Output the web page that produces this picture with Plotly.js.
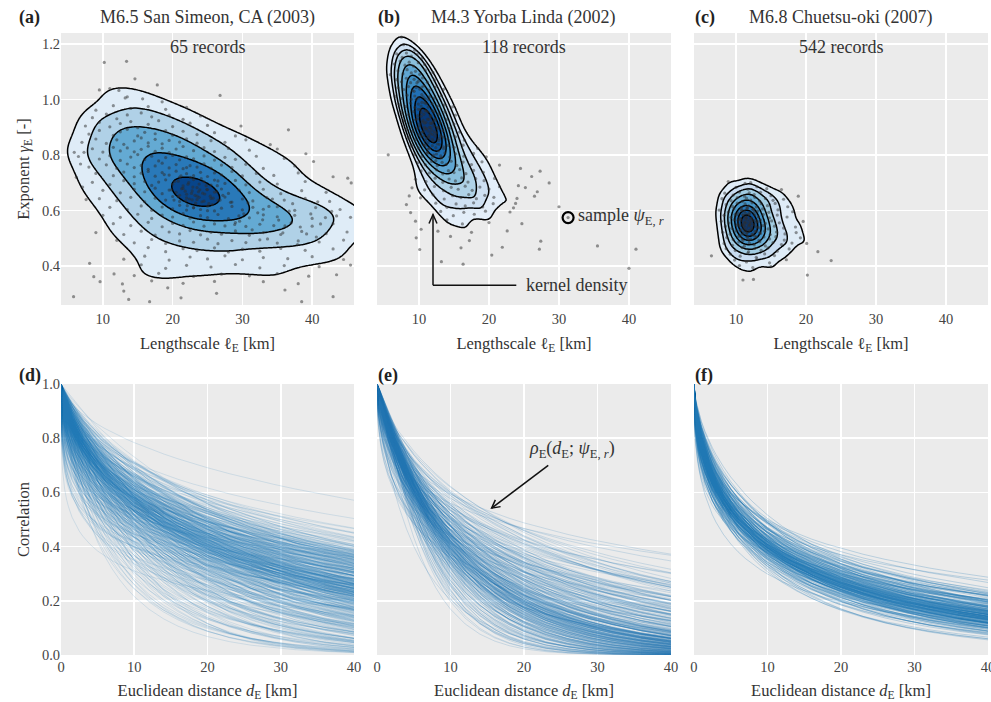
<!DOCTYPE html>
<html><head><meta charset="utf-8">
<script src="https://cdn.plot.ly/plotly-3.0.1.min.js"></script>
<style>html,body{margin:0;padding:0;background:#fff}#chart{width:991px;height:702px}</style>
</head><body><div id="chart"></div>
<script>
// ---------------- data ----------------
const panelTitles = ['M6.5 San Simeon, CA (2003)', 'M4.3 Yorba Linda (2002)', 'M6.8 Chuetsu-oki (2007)'];
const recordCounts = ['65 records', '118 records', '542 records'];
const panelLetters = ['(a)', '(b)', '(c)', '(d)', '(e)', '(f)'];
const lengthscaleTicks = [10, 20, 30, 40];
const exponentTicks = [0.4, 0.6, 0.8, 1.0, 1.2];
const distanceTicks = [0, 10, 20, 30, 40];
const correlationTicks = [0, 0.2, 0.4, 0.6, 0.8, 1.0];
const distanceGrid = [0,0.05,0.1,0.2,0.35,0.5,0.75,1,1.5,2,2.5,3,4,5,6,7,8,9,10,12,14,16,18,20,23,26,29,32,36,40];

// posterior samples [lengthscale km, exponent]
const sanSimeonSamples = [
[10.2,1.134],[13.4,1.138],
[14.6,1.075],[17.8,1.053],
[9.5,1.035],[11.0,1.040],[12.3,1.033],[26.8,1.015],
[13.2,1.006],[13.5,1.010],[15.7,1.003],[18.5,0.992],
[9.0,0.962],[11.5,0.978],[14.0,0.968],[16.5,0.975],[19.0,0.965],[22.0,0.972],
[8.5,0.935],[10.5,0.948],[12.0,0.931],[13.5,0.945],[15.5,0.952],[17.0,0.938],[19.5,0.944],[21.5,0.929],[24.0,0.941],
[7.5,0.905],[9.5,0.918],[11.0,0.902],[12.5,0.914],[14.0,0.921],[15.0,0.899],[16.5,0.911],[18.0,0.924],[20.0,0.903],[22.5,0.915],[25.0,0.907],[29.8,0.905],
[8.0,0.876],[9.5,0.889],[11.5,0.871],[12.5,0.884],[13.5,0.893],[15.0,0.869],[16.0,0.882],[17.5,0.877],[19.0,0.888],[20.0,0.872],[21.5,0.886],[23.5,0.874],[26.0,0.881],[29.0,0.869],[36.6,0.891],
[7.0,0.846],[9.0,0.858],[10.5,0.842],[12.0,0.855],[13.0,0.839],[14.5,0.851],[15.5,0.862],[16.5,0.844],[17.5,0.857],[18.5,0.841],[19.5,0.853],[21.0,0.847],[22.0,0.859],[23.5,0.843],[25.5,0.852],[27.5,0.846],[30.5,0.855],[34.0,0.838],
[8.5,0.823],[10.0,0.811],[11.5,0.828],[12.5,0.815],[13.5,0.826],[14.5,0.812],[15.5,0.821],[16.5,0.832],[17.5,0.814],[18.5,0.825],[19.5,0.809],[20.5,0.822],[21.5,0.831],[23.0,0.816],[24.5,0.827],[26.0,0.813],[28.0,0.824],[31.0,0.818],[35.0,0.822],[39.1,0.805],
[6.5,0.795],[9.5,0.786],[11.0,0.798],[12.5,0.781],[14.0,0.793],[15.0,0.802],[16.0,0.784],[17.0,0.796],[18.0,0.779],[19.0,0.791],[20.0,0.799],[21.0,0.783],[22.0,0.794],[23.0,0.787],[24.5,0.797],[26.0,0.782],[27.5,0.792],[29.0,0.785],[32.0,0.796],[36.0,0.788],[40.2,0.777],
[8.0,0.757],[10.5,0.765],[12.0,0.752],[13.5,0.768],[14.5,0.755],[15.5,0.763],[16.5,0.749],[17.5,0.761],[18.5,0.771],[19.5,0.754],[20.5,0.766],[21.5,0.751],[22.5,0.762],[23.5,0.757],[24.5,0.769],[25.5,0.753],[27.0,0.764],[28.5,0.756],[30.5,0.767],[33.0,0.752],[37.5,0.761],
[9.0,0.734],[11.5,0.726],[13.0,0.739],[14.5,0.722],[15.5,0.735],[16.5,0.741],[17.5,0.724],[18.5,0.737],[19.5,0.728],[20.5,0.742],[21.0,0.721],[22.0,0.733],[23.0,0.726],[24.0,0.738],[25.0,0.723],[26.0,0.736],[27.0,0.729],[28.5,0.741],[30.0,0.725],[32.0,0.734],[34.5,0.727],[38.0,0.736],[43.0,0.722],
[8.5,0.702],[11.0,0.694],[13.0,0.708],[14.5,0.697],[16.0,0.705],[17.0,0.691],[18.0,0.703],[19.0,0.711],[20.0,0.695],[20.8,0.706],[21.5,0.689],[22.3,0.701],[23.0,0.712],[23.8,0.696],[24.5,0.704],[25.5,0.692],[26.5,0.707],[27.5,0.698],[29.0,0.709],[30.5,0.693],[32.5,0.703],[35.0,0.696],[39.0,0.705],[45.1,0.717],
[10.0,0.673],[12.5,0.664],[14.5,0.677],[16.0,0.668],[17.5,0.681],[18.5,0.661],[19.5,0.674],[20.5,0.666],[21.3,0.679],[22.0,0.659],[22.8,0.671],[23.5,0.683],[24.3,0.663],[25.0,0.676],[26.0,0.667],[27.0,0.678],[28.0,0.662],[29.5,0.674],[31.0,0.665],[33.0,0.677],[35.5,0.661],[38.5,0.672],[42.0,0.666],[45.6,0.700],
[9.5,0.643],[12.0,0.636],[14.0,0.648],[16.0,0.632],[17.5,0.645],[19.0,0.638],[20.0,0.651],[21.0,0.633],[22.0,0.646],[22.8,0.639],[23.5,0.652],[24.5,0.634],[25.5,0.644],[26.5,0.637],[27.5,0.649],[28.5,0.631],[30.0,0.642],[31.5,0.635],[33.5,0.647],[36.0,0.638],[39.0,0.644],[42.5,0.633],
[11.0,0.612],[13.5,0.604],[15.5,0.617],[17.0,0.601],[18.5,0.613],[20.0,0.606],[21.0,0.619],[22.0,0.602],[23.0,0.611],[24.0,0.604],[25.0,0.616],[26.0,0.599],[27.0,0.609],[28.5,0.615],[30.0,0.603],[31.5,0.612],[33.0,0.605],[35.0,0.614],[37.5,0.601],[40.5,0.611],[44.0,0.604],
[10.0,0.583],[12.5,0.576],[15.0,0.587],[17.0,0.572],[18.5,0.584],[20.0,0.577],[21.5,0.589],[22.5,0.573],[24.0,0.582],[25.0,0.575],[26.5,0.586],[28.0,0.571],[29.5,0.581],[31.0,0.574],[33.0,0.585],[35.0,0.578],[37.5,0.583],[40.0,0.572],[43.5,0.581],[45.5,0.576],
[11.5,0.553],[14.0,0.546],[16.5,0.558],[18.5,0.542],[20.0,0.554],[21.5,0.547],[23.0,0.559],[24.5,0.544],[26.0,0.552],[27.5,0.545],[29.0,0.557],[30.5,0.543],[32.5,0.551],[34.5,0.546],[37.0,0.556],[40.0,0.544],[43.0,0.553],
[9.0,0.521],[13.0,0.514],[15.5,0.526],[17.5,0.512],[19.5,0.523],[21.0,0.516],[22.5,0.528],[24.0,0.513],[25.5,0.522],[27.0,0.515],[29.0,0.527],[31.0,0.511],[33.0,0.521],[35.5,0.514],[38.5,0.525],[42.0,0.517],[45.0,0.523],
[12.0,0.493],[14.5,0.484],[17.0,0.496],[19.0,0.482],[21.0,0.491],[23.0,0.486],[25.0,0.497],[26.5,0.481],[28.5,0.492],[30.5,0.485],[32.5,0.495],[35.0,0.483],[38.0,0.491],[41.0,0.487],[44.5,0.494],
[16.5,0.467],[19.0,0.452],[21.5,0.463],[23.5,0.456],[26.0,0.466],[28.0,0.451],[30.0,0.461],[32.5,0.454],[35.5,0.464],[39.0,0.457],[43.0,0.462],
[13.0,0.425],[16.0,0.436],[19.5,0.422],[22.5,0.433],[25.0,0.426],[27.5,0.437],[30.0,0.423],[33.0,0.431],[36.5,0.427],[40.0,0.434],[44.5,0.424],
[8.1,0.410],[15.5,0.405],[19.0,0.392],[22.0,0.403],[25.5,0.397],[29.0,0.406],[32.5,0.394],[36.0,0.402],[41.0,0.398],[45.5,0.404],
[8.7,0.362],[11.6,0.372],[14.5,0.366],[18.0,0.374],[23.0,0.363],[27.0,0.371],[31.0,0.365],[35.0,0.373],[39.5,0.364],[43.5,0.369],
[9.6,0.344],[12.8,0.336],[17.0,0.347],[21.5,0.338],[26.0,0.345],[33.0,0.344],[38.0,0.337],
[13.0,0.310],[19.3,0.322],[26.3,0.302],[36.1,0.314],[43.0,0.290],
[5.8,0.290],[13.7,0.280],[16.7,0.272],[21.2,0.286],[38.5,0.272],
[6.2,0.720],[7.1,0.685],[6.8,0.768],[7.6,0.640],[5.9,0.810],[7.3,0.810],
[21.5,0.680],[23.2,0.655],[24.8,0.690],[22.6,0.720],[20.8,0.650],[25.8,0.645],[23.9,0.675],[21.9,0.635],[26.4,0.690],[22.2,0.695],[24.1,0.715],[20.3,0.705],[25.2,0.625],[23.5,0.640],[22.9,0.685],[27.2,0.655],[21.2,0.725],[24.6,0.660],[19.8,0.675],[26.0,0.710],[23.0,0.610],[25.0,0.600],[22.0,0.755],[18.8,0.730],[28.3,0.630],
[21.0,0.655],[22.4,0.642],[23.7,0.668],[25.4,0.652],[24.2,0.632],[22.7,0.662],[26.3,0.668],[20.2,0.638],[23.3,0.627],[24.9,0.676],[21.8,0.670],[26.8,0.638],[22.1,0.618],[25.7,0.622],[23.8,0.648],
[30.8,0.628],[32.2,0.592],[33.8,0.615],[35.2,0.566],[36.7,0.598],[38.3,0.541],[39.8,0.588],[41.2,0.552],[42.8,0.597],[29.6,0.562],[31.4,0.531],[33.6,0.498],[35.8,0.520],[37.9,0.478],[40.6,0.505],[30.2,0.588],[34.3,0.642],[37.2,0.625],[40.8,0.632],[28.9,0.550],[32.9,0.567],[36.1,0.545],[39.2,0.516],[41.9,0.575],
[46.8,0.58],[47.5,0.62],[48.3,0.51],[49.0,0.55],[50.2,0.47],[51.0,0.60],[52.5,0.53],[53.8,0.45],[55.0,0.57],[57.0,0.50],[59.5,0.42],[61.0,0.55],[64.0,0.48],[68.0,0.52],[48.8,0.44],[50.5,0.66],[54.0,0.62],[47.8,0.39],[58.0,0.60],[72.0,0.46],[85.0,0.50],[105.0,0.60]
];

const yorbaLindaSamples = [
[7.5,1.225],
[7.8,1.198],[9.4,1.178],
[6.8,1.165],[7.6,1.152],[8.2,1.168],[8.9,1.157],[9.7,1.163],[10.4,1.149],
[6.5,1.128],[7.3,1.139],[8.0,1.124],[8.6,1.135],[9.2,1.121],[9.9,1.133],[10.8,1.127],
[5.9,1.090],[7.0,1.104],[7.7,1.093],[8.3,1.108],[8.9,1.096],[9.5,1.102],[10.1,1.091],[10.9,1.106],[12.0,1.098],
[6.8,1.072],[7.5,1.064],[8.2,1.077],[8.8,1.061],[9.3,1.073],[9.9,1.066],[10.5,1.078],[11.2,1.063],[12.2,1.071],
[7.0,1.043],[7.8,1.036],[8.5,1.047],[9.1,1.032],[9.6,1.044],[10.1,1.038],[10.7,1.049],[11.4,1.034],[12.3,1.045],[13.5,1.037],
[6.6,1.012],[7.5,1.004],[8.3,1.016],[8.9,1.001],[9.4,1.013],[9.9,1.006],[10.4,1.018],[10.9,1.003],[11.5,1.011],[12.2,1.005],[13.2,1.014],
[7.2,0.982],[8.1,0.975],[8.8,0.987],[9.4,0.972],[9.9,0.984],[10.3,0.977],[10.8,0.989],[11.3,0.973],[11.9,0.985],[12.6,0.976],[13.6,0.981],[14.8,0.974],
[7.6,0.953],[8.5,0.946],[9.2,0.957],[9.8,0.942],[10.3,0.954],[10.7,0.947],[11.1,0.959],[11.6,0.943],[12.1,0.955],[12.8,0.948],[13.7,0.956],[15.2,0.944],
[7.9,0.924],[8.8,0.916],[9.5,0.928],[10.1,0.913],[10.6,0.925],[11.0,0.918],[11.4,0.929],[11.8,0.914],[12.3,0.926],[13.0,0.917],[13.9,0.927],[15.0,0.912],
[8.2,0.893],[9.1,0.886],[9.8,0.897],[10.4,0.882],[10.9,0.894],[11.3,0.887],[11.7,0.899],[12.2,0.884],[12.7,0.895],[13.4,0.888],[14.3,0.896],[15.8,0.883],
[8.5,0.862],[9.5,0.855],[10.3,0.867],[10.9,0.852],[11.4,0.864],[11.9,0.857],[12.3,0.869],[12.8,0.853],[13.4,0.865],[14.1,0.858],[15.2,0.866],[16.5,0.854],
[8.9,0.833],[9.9,0.826],[10.7,0.837],[11.3,0.822],[11.9,0.834],[12.4,0.827],[12.9,0.839],[13.5,0.823],[14.2,0.835],[15.0,0.828],[16.3,0.836],[18.4,0.824],
[5.6,0.801],[9.4,0.803],[10.4,0.795],[11.2,0.807],[11.9,0.792],[12.5,0.804],[13.1,0.797],[13.7,0.808],[14.4,0.793],[15.2,0.805],[16.4,0.796],[17.8,0.806],[19.6,0.794],
[9.8,0.772],[10.9,0.765],[11.8,0.777],[12.6,0.762],[13.3,0.774],[13.9,0.767],[14.6,0.778],[15.4,0.763],[16.3,0.775],[17.5,0.766],[19.0,0.776],[21.5,0.764],
[10.3,0.743],[11.5,0.736],[12.5,0.747],[13.4,0.732],[14.2,0.744],[15.0,0.737],[15.8,0.748],[16.7,0.733],[17.8,0.745],[19.2,0.738],[24.5,0.752],[27.3,0.742],
[9.5,0.713],[11.0,0.705],[12.3,0.717],[13.4,0.702],[14.3,0.714],[15.2,0.707],[16.1,0.718],[17.0,0.703],[18.1,0.715],[19.3,0.708],[20.8,0.716],[24.2,0.690],[26.1,0.723],[28.6,0.700],
[9.0,0.682],[10.8,0.675],[12.2,0.687],[13.5,0.672],[14.6,0.684],[15.6,0.677],[16.6,0.688],[17.6,0.673],[18.7,0.685],[20.0,0.678],[21.5,0.686],[26.9,0.668],[25.2,0.683],
[8.6,0.653],[10.2,0.646],[12.0,0.657],[13.6,0.642],[14.8,0.654],[16.0,0.647],[17.1,0.658],[18.2,0.643],[19.4,0.655],[20.7,0.648],[23.5,0.610],[24.0,0.644],[26.5,0.652],
[8.2,0.622],[12.4,0.627],[14.0,0.612],[15.3,0.624],[16.6,0.617],[17.8,0.628],[19.1,0.613],[20.6,0.625],[23.8,0.626],[30.0,0.614],
[8.8,0.593],[13.1,0.597],[14.9,0.582],[16.4,0.594],[17.9,0.587],[19.5,0.598],[23.0,0.595],
[9.5,0.562],[14.0,0.567],[16.2,0.552],[20.0,0.557],[24.7,0.553],[31.3,0.575],
[10.3,0.533],[12.7,0.526],[17.5,0.522],[22.6,0.527],
[9.6,0.502],[14.5,0.507],[17.2,0.492],[27.4,0.490],
[10.1,0.460],[16.0,0.466],[21.9,0.468],[27.2,0.461],[35.5,0.473],
[13.2,0.416],[20.4,0.440],[41.0,0.461],
[16.3,0.407],[40.0,0.392],
[10.8,0.915],[11.2,0.930],[11.5,0.900],[10.6,0.885],[11.9,0.875],[11.0,0.860],[10.3,0.940],[11.7,0.940],[12.2,0.905],[10.9,0.960],[11.4,0.870],[12.0,0.850],[10.1,0.905],[11.3,0.955],[12.5,0.880],[10.7,0.870],[11.6,0.915],[11.1,0.895],[12.3,0.930],[10.5,0.920],[11.8,0.890],[10.9,0.835],[11.5,0.825],[12.6,0.840],[10.4,0.990],[9.9,0.965],[12.9,0.860],[11.2,0.810],[9.6,1.000],[12.1,0.800],
[10.2,0.965],[9.8,0.930],[10.0,0.875],[11.0,0.985],[11.9,0.960],[12.8,0.815],[13.2,0.790],[12.4,0.780],[13.5,0.830],[10.6,1.010],[9.3,1.030],[9.7,1.060],[10.4,1.045],[11.4,1.000],[12.7,0.900],[13.1,0.870],[11.3,0.845],[10.8,0.900],[11.6,0.880],[12.0,0.920]
];

const chuetsuSamples = [
[8.9,0.705],[11.3,0.698],[12.1,0.701],
[10.0,0.684],[11.7,0.677],[13.0,0.686],[14.4,0.679],[16.5,0.676],
[8.4,0.663],[9.6,0.656],[10.5,0.667],[11.2,0.652],[11.9,0.664],[12.6,0.658],[13.5,0.666],[15.0,0.654],[18.9,0.652],
[8.0,0.643],[9.3,0.636],[10.2,0.647],[10.9,0.633],[11.5,0.645],[12.1,0.638],[12.7,0.648],[13.4,0.634],[14.2,0.644],[15.3,0.637],[16.8,0.641],
[8.6,0.622],[9.5,0.615],[10.2,0.627],[10.8,0.612],[11.3,0.624],[11.8,0.617],[12.3,0.628],[12.9,0.613],[13.6,0.625],[14.5,0.618],[15.6,0.626],[17.4,0.614],
[7.6,0.602],[8.9,0.595],[9.7,0.607],[10.3,0.592],[10.8,0.604],[11.2,0.597],[11.6,0.608],[12.0,0.593],[12.5,0.605],[13.1,0.598],[13.8,0.606],[14.7,0.594],[16.0,0.603],[18.1,0.596],
[8.3,0.583],[9.3,0.576],[9.9,0.587],[10.5,0.572],[11.0,0.584],[11.4,0.577],[11.8,0.588],[12.2,0.573],[12.7,0.585],[13.2,0.578],[13.9,0.586],[14.8,0.574],[15.9,0.584],[17.3,0.577],
[7.9,0.562],[9.0,0.555],[9.7,0.567],[10.3,0.552],[10.8,0.564],[11.2,0.557],[11.6,0.568],[12.0,0.553],[12.4,0.565],[12.9,0.558],[13.5,0.566],[14.2,0.554],[15.1,0.563],[16.2,0.556],[19.6,0.561],
[8.5,0.543],[9.4,0.536],[10.1,0.547],[10.7,0.532],[11.1,0.544],[11.5,0.537],[11.9,0.548],[12.3,0.533],[12.8,0.545],[13.3,0.538],[13.9,0.546],[14.6,0.534],[15.5,0.544],[16.8,0.537],[18.5,0.541],
[8.1,0.522],[9.2,0.515],[10.0,0.527],[10.6,0.512],[11.1,0.524],[11.5,0.517],[11.9,0.528],[12.4,0.513],[12.9,0.525],[13.5,0.518],[14.1,0.526],[14.9,0.514],[15.8,0.523],[17.0,0.516],[18.6,0.521],
[8.7,0.503],[9.6,0.496],[10.4,0.507],[11.0,0.492],[11.6,0.504],[12.1,0.497],[12.7,0.508],[13.3,0.493],[14.0,0.505],[14.8,0.498],[15.7,0.506],[16.9,0.494],[19.2,0.502],
[8.3,0.482],[9.5,0.475],[10.4,0.487],[11.2,0.472],[11.9,0.484],[12.6,0.477],[13.4,0.488],[14.2,0.473],[15.3,0.485],[16.5,0.478],[18.0,0.483],[20.1,0.482],
[8.6,0.463],[9.9,0.456],[10.9,0.467],[11.8,0.452],[12.7,0.464],[13.6,0.457],[14.6,0.466],[15.9,0.454],[17.6,0.462],[21.7,0.452],
[6.5,0.437],[9.2,0.443],[10.6,0.436],[11.7,0.447],[12.9,0.432],[14.1,0.444],[15.5,0.438],[23.6,0.420],
[9.8,0.422],[11.5,0.415],[13.0,0.426],[14.8,0.412],[17.2,0.423],
[10.5,0.402],[12.4,0.395],[15.0,0.398],
[11.0,0.350],[12.5,0.352],[20.2,0.368],
[11.3,0.560],[11.8,0.545],[12.2,0.560],[10.9,0.550],[11.5,0.575],[12.0,0.530],[11.1,0.535],[12.5,0.550],[11.6,0.520],[10.7,0.570],[11.9,0.585],[12.8,0.565],[11.4,0.590],[10.5,0.545],[12.3,0.515],[11.0,0.515],[13.0,0.540],[12.6,0.595],[10.8,0.600],[11.7,0.505],
[11.2,0.548],[11.9,0.562],[12.1,0.572],[11.4,0.528],[10.6,0.528],[12.7,0.525],[13.2,0.560],[10.3,0.565],[11.6,0.610],[12.4,0.605],[11.0,0.585],[12.9,0.505],[11.8,0.495],[10.9,0.498],[13.4,0.520],[10.1,0.585],[12.2,0.540],[11.5,0.555],[11.3,0.570],[12.0,0.550]
];

// fraction of KDE mass enclosed by each contour line (outer -> inner)
const sanSimeonLevels = [0.86, 0.66, 0.45, 0.25, 0.07];
const yorbaLindaLevels = [0.80, 0.71, 0.62, 0.53, 0.44, 0.35, 0.26, 0.17, 0.08];
const chuetsuLevels = [0.90, 0.78, 0.66, 0.54, 0.42, 0.30, 0.19, 0.09];

// ---------------- helpers ----------------
const FONT = 'Liberation Serif';
const BLUES = ['#f7fbff','#deebf7','#c6dbef','#9ecae1','#6baed6','#4292c6','#2171b5','#08519c','#08306b'];
function hex2rgb(h){return [parseInt(h.slice(1,3),16),parseInt(h.slice(3,5),16),parseInt(h.slice(5,7),16)];}
function blues(t){
  t=Math.max(0,Math.min(1,t)); const p=t*(BLUES.length-1); const i=Math.min(Math.floor(p),BLUES.length-2); const f=p-i;
  const a=hex2rgb(BLUES[i]), b=hex2rgb(BLUES[i+1]);
  return 'rgb('+a.map((v,k)=>Math.round(v+(b[k]-v)*f)).join(',')+')';
}
function kde(samples, bwAdjust, xr, yr, nx, ny){
  const n=samples.length; let mx=0,my=0;
  samples.forEach(s=>{mx+=s[0];my+=s[1];}); mx/=n; my/=n;
  let sxx=0,syy=0,sxy=0;
  samples.forEach(s=>{const dx=s[0]-mx,dy=s[1]-my;sxx+=dx*dx;syy+=dy*dy;sxy+=dx*dy;});
  sxx/=(n-1);syy/=(n-1);sxy/=(n-1);
  const f=Math.pow(n,-1/6)*bwAdjust, f2=f*f;
  const a=sxx*f2,b=sxy*f2,d=syy*f2,det=a*d-b*b;
  const ia=d/det, ib=-b/det, id=a/det;
  const gx=[],gy=[];
  for(let i=0;i<nx;i++) gx.push(xr[0]+(xr[1]-xr[0])*i/(nx-1));
  for(let j=0;j<ny;j++) gy.push(yr[0]+(yr[1]-yr[0])*j/(ny-1));
  const z=gy.map(y=>gx.map(x=>{let s=0;for(let k=0;k<n;k++){const dx=x-samples[k][0],dy=y-samples[k][1];s+=Math.exp(-0.5*(ia*dx*dx+2*ib*dx*dy+id*dy*dy));}return s;}));
  return {gx,gy,z};
}
function massLevels(z, masses){
  const flat=[].concat(...z).sort((p,q)=>q-p); const tot=flat.reduce((s,v)=>s+v,0);
  return masses.map(m=>{let c=0;for(let i=0;i<flat.length;i++){c+=flat[i];if(c>=m*tot)return flat[i];}return flat[flat.length-1];});
}

// ---------------- figure ----------------
const panels = [
  {samples: sanSimeonSamples, levels: sanSimeonLevels, bw: 0.75, tmin: 0.12, tmax: 0.92, alpha: 0.15},
  {samples: yorbaLindaSamples, levels: yorbaLindaLevels, bw: 0.7, tmin: 0.1, tmax: 0.97, alpha: 0.18},
  {samples: chuetsuSamples, levels: chuetsuLevels, bw: 0.85, tmin: 0.12, tmax: 0.97, alpha: 0.25}
];
const cols=[[0,0.3161],[0.3409,0.658],[0.6828,1]];
const topDom=[0.5627,1], botDom=[0,0.4357];
const traces=[]; const layout={
  width:991,height:702,margin:{l:61,r:3,t:33,b:47},paper_bgcolor:'#ffffff',plot_bgcolor:'#ebebeb',
  showlegend:false,font:{family:FONT,color:'#333',size:14},annotations:[],shapes:[]
};
const tickFont={family:FONT,size:14.5,color:'#444'};
const titleFont={family:FONT,size:16.5,color:'#333'};
const common={showgrid:true,gridcolor:'#ffffff',gridwidth:1.6,zeroline:false,showline:false,ticks:'',tickfont:tickFont,fixedrange:true,ticklabeloverflow:'allow'};
const axTop=Object.assign({},common,{range:[4,46],tickvals:lengthscaleTicks,ticklabelstandoff:3});
const ayTop=Object.assign({},common,{range:[0.26,1.24],tickvals:exponentTicks,tickformat:'.1f'});
const axBot=Object.assign({},common,{range:[0,40],tickvals:distanceTicks,ticklabelstandoff:1});
const ayBot=Object.assign({},common,{range:[0,1],tickvals:correlationTicks,tickformat:'.1f'});

panels.forEach((p,i)=>{
  const xa='x'+(i===0?'':(i+1)), ya='y'+(i===0?'':(i+1));
  const xb='x'+(i+4), yb='y'+(i+4);
  const xkey='xaxis'+(i===0?'':(i+1)), ykey='yaxis'+(i===0?'':(i+1));
  layout[xkey]=Object.assign({},axTop,{domain:cols[i],anchor:ya,title:{text:'Lengthscale ℓ<sub>E</sub> [km]',font:titleFont,standoff:11}});
  layout[ykey]=Object.assign({},ayTop,{domain:topDom,anchor:xa,showticklabels:i===0});
  layout['xaxis'+(i+4)]=Object.assign({},axBot,{domain:cols[i],anchor:yb,title:{text:'Euclidean distance <i>d</i><sub>E</sub> [km]',font:titleFont,standoff:10}});
  layout['yaxis'+(i+4)]=Object.assign({},ayBot,{domain:botDom,anchor:xb,showticklabels:i===0});
  if(i===0){
    layout[ykey].title={text:'Exponent <i>γ</i><sub>E</sub> [-]',font:titleFont,standoff:8};
    layout['yaxis4'].title={text:'Correlation',font:titleFont,standoff:8};
  }
  // KDE contours
  const K=kde(p.samples,p.bw,[3.5,46.5],[0.24,1.26],150,150);
  const lv=massLevels(K.z,p.levels);
  lv.forEach((L,k)=>{
    const t=p.tmin+(p.tmax-p.tmin)*k/(lv.length-1);
    traces.push({type:'contour',x:K.gx,y:K.gy,z:K.z,xaxis:xa,yaxis:ya,showscale:false,hoverinfo:'skip',
      contours:{type:'constraint',operation:'<',value:L},fillcolor:blues(t),line:{color:'#000',width:1.5,smoothing:1}});
  });
  // sample points
  traces.push({type:'scatter',mode:'markers',x:p.samples.map(s=>s[0]),y:p.samples.map(s=>s[1]),xaxis:xa,yaxis:ya,
    marker:{size:3.2,color:'rgba(45,45,45,0.5)'},hoverinfo:'skip'});
  // correlation curves
  p.samples.forEach(s=>{
    traces.push({type:'scatter',mode:'lines',x:distanceGrid,y:distanceGrid.map(d=>Math.exp(-Math.pow(d/s[0],s[1]))),
      xaxis:xb,yaxis:yb,line:{color:'rgba(31,119,180,'+p.alpha+')',width:1},hoverinfo:'skip'});
  });
  // titles
  layout.annotations.push({xref:xa+' domain',yref:ya+' domain',x:0.5,y:1.0588,text:panelTitles[i],showarrow:false,font:{family:FONT,size:18,color:'#333'},xanchor:'center',yanchor:'middle'});
  layout.annotations.push({xref:xa+' domain',yref:ya+' domain',x:0.5,y:0.9485,text:recordCounts[i],showarrow:false,font:{family:FONT,size:18,color:'#333'},xanchor:'center',yanchor:'middle'});
  const lx = i===0 ? -44/293 : -0.003;
  layout.annotations.push({xref:xa+' domain',yref:ya+' domain',x:lx,y:1.0588,text:'<b>'+panelLetters[i]+'</b>',showarrow:false,font:{family:FONT,size:18,color:'#222'},xanchor:'left',yanchor:'middle'});
  layout.annotations.push({xref:xb+' domain',yref:yb+' domain',x:lx,y:1.033,text:'<b>'+panelLetters[i+3]+'</b>',showarrow:false,font:{family:FONT,size:18,color:'#222'},xanchor:'left',yanchor:'middle'});
});

// highlighted sample in (b)
traces.push({type:'scatter',mode:'markers',x:[31.3],y:[0.575],xaxis:'x2',yaxis:'y2',marker:{symbol:'circle-open',size:11,color:'#000',line:{width:2.2,color:'#000'}},hoverinfo:'skip'});
layout.annotations.push({xref:'x2',yref:'y2',x:32.5,y:0.578,text:'sample <i>ψ</i><sub>E, <i>r</i></sub>',showarrow:false,font:{family:FONT,size:18,color:'#333'},xanchor:'left',yanchor:'middle'});
layout.annotations.push({xref:'x2',yref:'y2',x:25.0,y:0.331,text:'kernel density',showarrow:false,font:{family:FONT,size:18,color:'#333'},xanchor:'left',yanchor:'middle'});
layout.shapes.push({type:'line',xref:'x2',yref:'y2',x0:12.0,y0:0.331,x1:23.9,y1:0.331,line:{color:'#111',width:1.5}});
layout.shapes.push({type:'line',xref:'x2',yref:'y2',x0:12.0,y0:0.331,x1:12.0,y1:0.586,line:{color:'#111',width:1.5}});
layout.shapes.push({type:'path',xref:'x2',yref:'y2',xsizemode:'pixel',ysizemode:'pixel',xanchor:12.0,yanchor:0.586,path:'M-4,-9L0,0L4,-9',line:{color:'#111',width:1.5}});
// correlation annotation in (e)
layout.annotations.push({xref:'x5',yref:'y5',x:26.5,y:0.757,text:'<i>ρ</i><sub>E</sub>(<i>d</i><sub>E</sub>; <i>ψ</i><sub>E, <i>r</i></sub>)',showarrow:false,font:{family:FONT,size:18,color:'#333'},xanchor:'center',yanchor:'middle'});
layout.shapes.push({type:'line',xref:'x5',yref:'y5',x0:23.3,y0:0.70,x1:15.6,y1:0.542,line:{color:'#111',width:1.5}});
layout.shapes.push({type:'path',xref:'x5',yref:'y5',xsizemode:'pixel',ysizemode:'pixel',xanchor:15.6,yanchor:0.542,path:'M8.9,1.5L0,0L3.7,8.2',line:{color:'#111',width:1.5}});

Plotly.newPlot('chart',traces,layout,{staticPlot:true,displayModeBar:false});
</script></body></html>
